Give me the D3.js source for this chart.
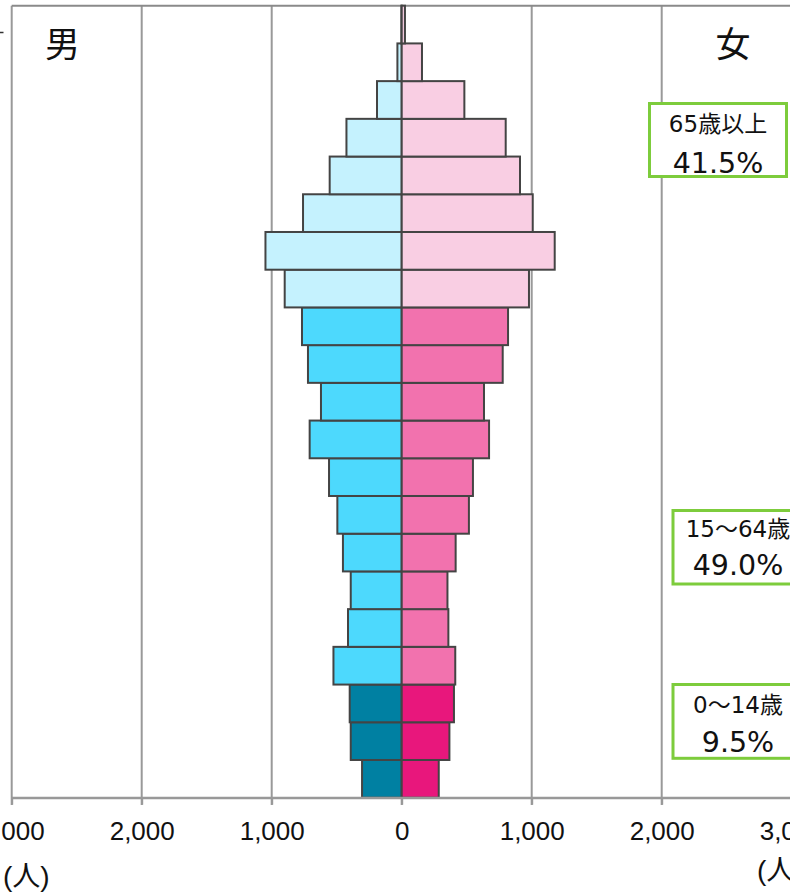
<!DOCTYPE html>
<html><head><meta charset="utf-8">
<script src="https://cdn.jsdelivr.net/npm/d3@7"></script>
<style>html,body{margin:0;padding:0;background:#fff;overflow:hidden}</style>
</head><body><svg id="c" width="790" height="896"></svg>
<script>
const ages = ["0-4","5-9","10-14","15-19","20-24","25-29","30-34","35-39","40-44","45-49","50-54","55-59","60-64","65-69","70-74","75-79","80-84","85-89","90-94","95-99","100+"];
const male   = [305,392,400,525,413,392,452,495,559,708,621,721,767,900,1048,759,554,425,190,33,2];
const female = [285,367,402,412,359,352,415,517,548,672,633,777,818,979,1177,1008,910,800,482,156,25];
const ticks = [-3000,-2000,-1000,0,1000,2000,3000];
const groupLabels = ["65歳以上","15～64歳","0～14歳"];
const groupShares = ["41.5%","49.0%","9.5%"];

const svg = d3.select("#c");
const x = d3.scaleLinear().domain([-3000,3000]).range([11.7,791.7]);
const y = d3.scaleBand().domain(ages).range([797.7,5.7]).padding(0);
const grp = a => { const i = ages.indexOf(a); return i < 3 ? 0 : (i < 13 ? 1 : 2); };
const maleCol = ["#0080a2","#4dd9fd","#c5f2fe"];
const femCol = ["#e8177c","#f272ae","#f9cee3"];

// grid
svg.append("g").selectAll("line").data(ticks).join("line")
  .attr("x1",d=>x(d)).attr("x2",d=>x(d)).attr("y1",5.7).attr("y2",805)
  .attr("stroke","#999").attr("stroke-width",2);
svg.append("line").attr("x1",x(-3000)).attr("x2",790).attr("y1",5.7).attr("y2",5.7)
  .attr("stroke","#8a8a8a").attr("stroke-width",2);
svg.append("line").attr("x1",0).attr("x2",3.5).attr("y1",32.5).attr("y2",32.5)
  .attr("stroke","#333").attr("stroke-width",1.5);

// bars
const bars = svg.append("g");
bars.selectAll("rect.m").data(ages).join("rect").attr("class","m")
  .attr("x",(d,i)=>x(-male[i])).attr("width",(d,i)=>x(0)-x(-male[i]))
  .attr("y",d=>y(d)).attr("height",y.bandwidth())
  .attr("fill",d=>maleCol[grp(d)]).attr("stroke","#444").attr("stroke-width",2);
bars.selectAll("rect.f").data(ages).join("rect").attr("class","f")
  .attr("x",x(0)).attr("width",(d,i)=>x(female[i])-x(0))
  .attr("y",d=>y(d)).attr("height",y.bandwidth())
  .attr("fill",d=>femCol[grp(d)]).attr("stroke","#444").attr("stroke-width",2);

// axis
const ax = svg.append("g").attr("transform","translate(0,797.7)")
  .call(d3.axisBottom(x).tickValues(ticks).tickSize(7).tickPadding(14)
    .tickFormat(d=>d3.format(",")(Math.abs(d))).tickSizeOuter(0));
ax.select(".domain").attr("stroke","#999").attr("stroke-width",2);
ax.selectAll(".tick line").attr("stroke","#999").attr("stroke-width",2);
ax.selectAll(".tick text").attr("font-family","'Liberation Sans',Arial,sans-serif")
  .attr("font-size",26).attr("fill","#111").attr("dy",null).attr("y",42.3);
svg.append("line").attr("x1",x(-3000)).attr("x2",790).attr("y1",797.7).attr("y2",797.7)
  .attr("stroke","#999").attr("stroke-width",2);

// unit labels
const unitFont = "'Liberation Sans','Noto Sans CJK JP',sans-serif";
svg.append("text").attr("x",3).attr("y",886).attr("font-family",unitFont).attr("font-size",28).attr("fill","#111").text("(人)");
svg.append("text").attr("x",757).attr("y",880).attr("font-family",unitFont).attr("font-size",28).attr("fill","#111").text("(人)");

// sex labels
const cjk = "'Noto Sans CJK JP',sans-serif";
svg.append("text").attr("x",62.5).attr("y",57).attr("text-anchor","middle").attr("font-family",cjk).attr("font-size",35).attr("fill","#111").text("男");
svg.append("text").attr("x",733).attr("y",57).attr("text-anchor","middle").attr("font-family",cjk).attr("font-size",35).attr("fill","#111").text("女");

// group boxes
const boxes = [
  {x0:649.5,x1:786.5,y0:103.5,y1:176.5,cx:718,b1:131.7,b2:173.3},
  {x0:673,x1:803,y0:510.5,y1:584,cx:738,b1:537.3,b2:575},
  {x0:673,x1:803,y0:684.5,y1:758.3,cx:738,b1:712.7,b2:751.7}
];
const lf = "'DejaVu Sans','Noto Sans CJK JP',sans-serif";
boxes.forEach((b,i)=>{
  svg.append("rect").attr("x",b.x0).attr("y",b.y0).attr("width",b.x1-b.x0).attr("height",b.y1-b.y0)
    .attr("fill","#fff").attr("stroke","#7dcc3c").attr("stroke-width",3);
  svg.append("text").attr("x",b.cx).attr("y",b.b1).attr("text-anchor","middle").attr("font-family",lf)
    .attr("font-size",23).attr("fill","#111").text(groupLabels[i]);
  svg.append("text").attr("x",b.cx).attr("y",b.b2).attr("text-anchor","middle").attr("font-family",lf)
    .attr("font-size",28.5).attr("fill","#111").text(groupShares[i]);
});
</script></body></html>
